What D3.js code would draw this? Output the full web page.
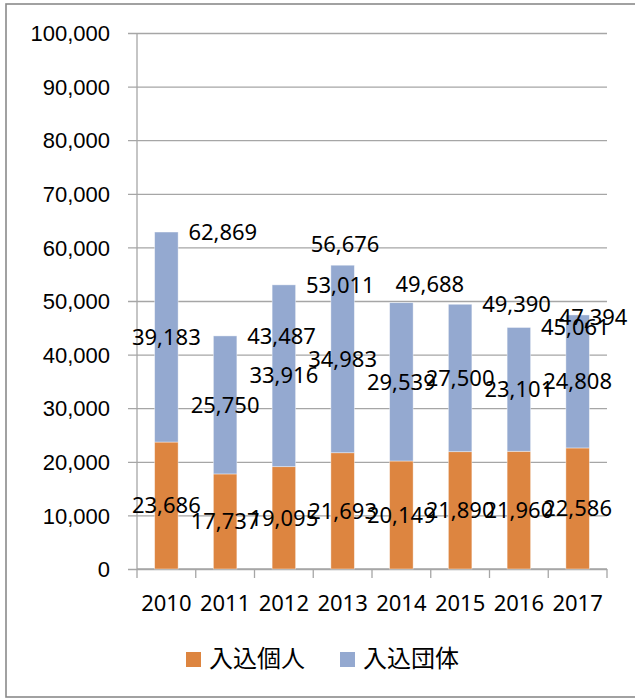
<!DOCTYPE html>
<html lang="ja">
<head>
<meta charset="UTF-8">
<title>入込客数</title>
<style>
  body { margin: 0; background: #fff; }
  svg { display: block; font-family: "Noto Sans", "Open Sans", "Noto Sans CJK JP", sans-serif; }
  .tick text { font-size: 22px; fill: #000; }
  .lbl { font-size: 22px; fill: #000; }
  .legend text { font-family: "Noto Sans CJK JP", sans-serif; font-size: 24px; fill: #000; }
</style>
</head>
<body>
<div id="chart"></div>
<script src="https://d3js.org/d3.v7.min.js"></script>
<script>
// data
const years = ['2010', '2011', '2012', '2013', '2014', '2015', '2016', '2017'];
const kojin = [23686, 17737, 19095, 21693, 20149, 21890, 21960, 22586];   // 入込個人
const dantai = [39183, 25750, 33916, 34983, 29539, 27500, 23101, 24808];  // 入込団体
const totals = [62869, 43487, 53011, 56676, 49688, 49390, 45061, 47394];
const seriesNames = ['入込個人', '入込団体'];
const yTicks = [0, 10000, 20000, 30000, 40000, 50000, 60000, 70000, 80000, 90000, 100000];

// the total labels were moved by hand in the original, a few of them
const totalNudge = [[0, 0], [0, 0], [0, 0], [-54, -21], [-28, -18], [0, 0], [0, 0], [-41, 2]];

const W = 635, H = 699;
const pLeft = 137, pRight = 607, pTop = 33, pBottom = 569;
const colors = ['#DD8540', '#94A9D0'];
const grid = '#a6a6a6';

const rows = years.map((y, i) => ({ year: y, kojin: kojin[i], dantai: dantai[i], total: totals[i], i: i }));

const x = d3.scaleBand().domain(years).range([pLeft, pRight]).paddingInner(0).paddingOuter(0);
const y = d3.scaleLinear().domain([0, 100000]).range([pBottom, pTop]);
const barW = x.bandwidth() * 0.4;
const fmt = d3.format(',');

const svg = d3.select('#chart').append('svg')
  .attr('width', W)
  .attr('height', H);

// outer frame
svg.append('rect')
  .attr('x', 6).attr('y', 4)
  .attr('width', W + 10).attr('height', 693)
  .attr('fill', 'none')
  .attr('stroke', '#8a8a8a')
  .attr('stroke-width', 1.6);

// y axis with gridlines
const yAxis = d3.axisLeft(y).tickValues(yTicks).tickFormat(fmt).tickSize(-(pRight - pLeft));
const gy = svg.append('g').attr('transform', `translate(${pLeft},0)`).call(yAxis);
gy.select('.domain').remove();
gy.selectAll('.tick line')
  .attr('x1', -9)
  .attr('stroke', grid)
  .attr('stroke-width', 1.3);
gy.selectAll('.tick text').attr('x', -27).attr('dy', '0.35em');

// y axis line
svg.append('line')
  .attr('x1', pLeft).attr('x2', pLeft)
  .attr('y1', pTop).attr('y2', pBottom)
  .attr('stroke', grid).attr('stroke-width', 1.3);

// x axis: ticks at the band edges
svg.append('line')
  .attr('x1', pLeft).attr('x2', pRight)
  .attr('y1', pBottom).attr('y2', pBottom)
  .attr('stroke', grid).attr('stroke-width', 1.3);
const edges = years.map(d => x(d)).concat([pRight]);
svg.append('g').selectAll('line')
  .data(edges)
  .enter()
  .append('line')
  .attr('x1', d => d).attr('x2', d => d)
  .attr('y1', pBottom).attr('y2', pBottom + 9)
  .attr('stroke', grid).attr('stroke-width', 1.3);

svg.append('g').selectAll('text')
  .data(years)
  .enter()
  .append('text')
  .attr('class', 'lbl')
  .attr('x', d => x(d) + x.bandwidth() / 2)
  .attr('y', 603)
  .attr('dy', '0.35em')
  .attr('text-anchor', 'middle')
  .text(d => d);

// stacked bars
const stack = d3.stack().keys(['kojin', 'dantai'])(rows);

svg.append('g').selectAll('g')
  .data(stack)
  .enter()
  .append('g')
  .attr('fill', (d, i) => colors[i])
  .selectAll('rect')
  .data(d => d)
  .enter()
  .append('rect')
  .attr('x', d => x(d.data.year) + (x.bandwidth() - barW) / 2)
  .attr('y', d => y(d[1]))
  .attr('width', barW)
  .attr('height', d => y(d[0]) - y(d[1]))
  .attr('stroke', '#fff')
  .attr('stroke-opacity', 0.5)
  .attr('stroke-width', 0.8);

// segment labels, centred on each segment
stack.forEach(s => {
  svg.append('g').selectAll('text')
    .data(s)
    .enter()
    .append('text')
    .attr('class', 'lbl')
    .attr('x', d => x(d.data.year) + x.bandwidth() / 2)
    .attr('y', d => y((d[0] + d[1]) / 2))
    .attr('dy', '0.35em')
    .attr('text-anchor', 'middle')
    .text(d => fmt(d[1] - d[0]));
});

// total labels, to the right of the bar top
svg.append('g').selectAll('text')
  .data(rows)
  .enter()
  .append('text')
  .attr('class', 'lbl')
  .attr('x', d => x(d.year) + x.bandwidth() / 2 + 22 + totalNudge[d.i][0])
  .attr('y', d => y(d.total) + totalNudge[d.i][1])
  .attr('dy', '0.35em')
  .text(d => fmt(d.total));

// legend
const legend = svg.append('g').attr('class', 'legend');
const legX = [186, 340];
seriesNames.forEach((name, i) => {
  legend.append('rect')
    .attr('x', legX[i]).attr('y', 652)
    .attr('width', 15).attr('height', 15)
    .attr('fill', colors[i]);
  legend.append('text')
    .attr('x', legX[i] + 23)
    .attr('y', 659)
    .attr('dy', '0.35em')
    .text(name);
});
</script>
</body>
</html>
